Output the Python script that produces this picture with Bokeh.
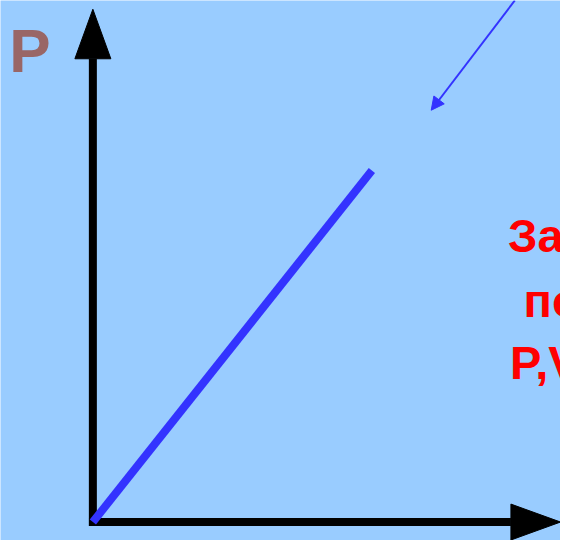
from bokeh.plotting import figure
from bokeh.models import Range1d, Arrow, NormalHead
from bokeh.core.properties import value
from bokeh.embed import file_html
from bokeh.resources import INLINE

# --- data (schematic P-V diagram, units: 1 unit = 100 px of the original) ---
isochore_V = [0.0, 2.87]
isochore_P = [0.0, 3.62]

axis_V_end = 4.81          # tip of V axis arrow
axis_P_end = 5.28          # tip of P axis arrow
head_len = 0.51
head_half = 0.185

pointer_start = [4.34, 5.37]
pointer_end = [3.48, 4.24]

label_P = ["P"]
label_P_pos = [-0.86, 4.86]

red_lines = ["За", "по", "P,V"]
red_x = [4.27, 4.43, 4.29]
red_y = [2.95, 2.28, 1.64]

BG = "#99CCFF"

p = figure(width=560, height=540, output_backend="svg", toolbar_location=None,
           x_range=Range1d(-0.95, 4.81), y_range=Range1d(-0.19, 5.37),
           min_border=0, background_fill_color=BG, border_fill_color=BG,
           outline_line_color=None)
p.axis.visible = False
p.grid.visible = False

# axes lines
p.line([0, 0], [-0.04, axis_P_end - head_len], line_width=8, line_color="black")
p.line([-0.04, axis_V_end - head_len], [0, 0], line_width=8, line_color="black")
# arrow heads
p.patch([-head_half, head_half, 0], [axis_P_end - head_len, axis_P_end - head_len, axis_P_end],
        fill_color="black", line_color="black")
p.patch([axis_V_end - head_len, axis_V_end - head_len, axis_V_end], [-head_half, head_half, 0],
        fill_color="black", line_color="black")

# isochore line
p.line(isochore_V, isochore_P, line_width=8, line_color="#3333FF", line_cap="butt")

# pointer arrow
p.add_layout(Arrow(x_start=pointer_start[0], y_start=pointer_start[1],
                   x_end=pointer_end[0], y_end=pointer_end[1],
                   line_color="#3333FF", line_width=2,
                   end=NormalHead(size=13, fill_color="#3333FF", line_color="#3333FF")))

# labels
p.text(x=[label_P_pos[0]], y=[label_P_pos[1]], text=label_P,
       text_font=value("Liberation Sans"), text_font_style="bold",
       text_font_size="62px", text_color="#996666", text_baseline="alphabetic")

p.text(x=red_x, y=red_y, text=red_lines,
       text_font=value("Liberation Sans"), text_font_style="bold",
       text_font_size="47px", text_color="#FF0000", text_baseline="alphabetic")

open("out.html", "w").write(file_html(p, INLINE))
